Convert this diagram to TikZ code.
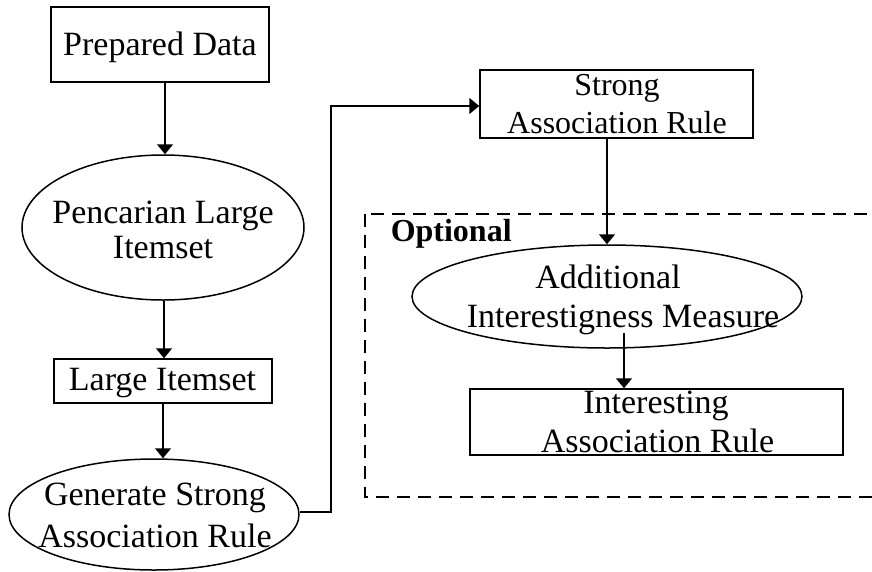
\documentclass[tikz,border=0pt]{standalone}
\usepackage{fontspec}
\setmainfont{Liberation Serif}
\usetikzlibrary{arrows.meta,shapes.geometric,calc}
\begin{document}
\begin{tikzpicture}[x=1pt,y=-1pt,line width=1.5pt,
  boxnode/.style={draw,rectangle,inner sep=0pt},
  ovalnode/.style={draw,ellipse,inner sep=0pt},
  txt/.style={anchor=base,inner sep=0pt,font=\fontsize{34}{34}\selectfont},
  txtsmall/.style={anchor=base,inner sep=0pt,font=\fontsize{32}{32}\selectfont},
  arr/.style={-{Triangle[length=10pt,width=16pt]}},
  optframe/.style={draw,dash pattern=on 13pt off 8pt}]
\useasboundingbox[fill=white] (0,0) rectangle (872,571);

% process shapes
\node[boxnode,minimum width=218pt,minimum height=75pt] (pd) at (160,44.5) {};
\node[ovalnode,minimum width=282pt,minimum height=145pt] (pli) at (163,227.5) {};
\node[boxnode,minimum width=218pt,minimum height=44pt] (li) at (163,381) {};
\node[ovalnode,minimum width=290pt,minimum height=111pt] (gsar) at (154,514.5) {};
\node[boxnode,minimum width=273pt,minimum height=68pt] (sar) at (616.5,104) {};
\node[ovalnode,minimum width=390pt,minimum height=103pt] (aim) at (607,296.5) {};
\node[boxnode,minimum width=373pt,minimum height=66pt] (iar) at (656.5,422) {};

% optional stage frame (runs off the right edge)
\draw[optframe] (365,214) rectangle (900,497);
\node[anchor=base west,inner sep=0pt,font=\fontsize{32}{32}\selectfont\bfseries] (opt) at (390,241) {Optional};

% labels
\node[txt] (tpd) at (160,55) {Prepared Data};
\node[txt] (tpli1) at (163,223) {Pencarian Large};
\node[txt] (tpli2) at (163,258) {Itemset};
\node[txt] (tli) at (162.5,390) {Large Itemset};
\node[txt] (tgs1) at (155,505) {Generate Strong};
\node[txt] (tgs2) at (155,547) {Association Rule};
\node[txtsmall] (tsar1) at (617,95) {Strong};
\node[txtsmall] (tsar2) at (617,133) {Association Rule};
\node[txt] (taim1) at (608,288) {Additional};
\node[txt] (taim2) at (623,327) {Interestigness Measure};
\node[txt] (tiar1) at (656,413) {Interesting};
\node[txt] (tiar2) at (657.5,452) {Association Rule};

% connectors
\draw[arr] ([xshift=5pt]pd.south) -- ([xshift=5pt]pd.south |- pli.north);
\draw[arr] ([xshift=1pt]pli.south) -- ([xshift=1pt]pli.south |- li.north);
\draw[arr] (li.south) -- (li.south |- gsar.north);
\draw[arr] ([yshift=2.5pt]gsar.east) -- ++(31,0) |- ([yshift=-2pt]sar.west);
\draw[arr] (sar.south -| aim.north) -- (aim.north);
\coordinate (aimout) at ($(aim.center)+(17,36.5)$);
\draw[arr] (aimout) -- (aimout |- iar.north);
\end{tikzpicture}
\end{document}
